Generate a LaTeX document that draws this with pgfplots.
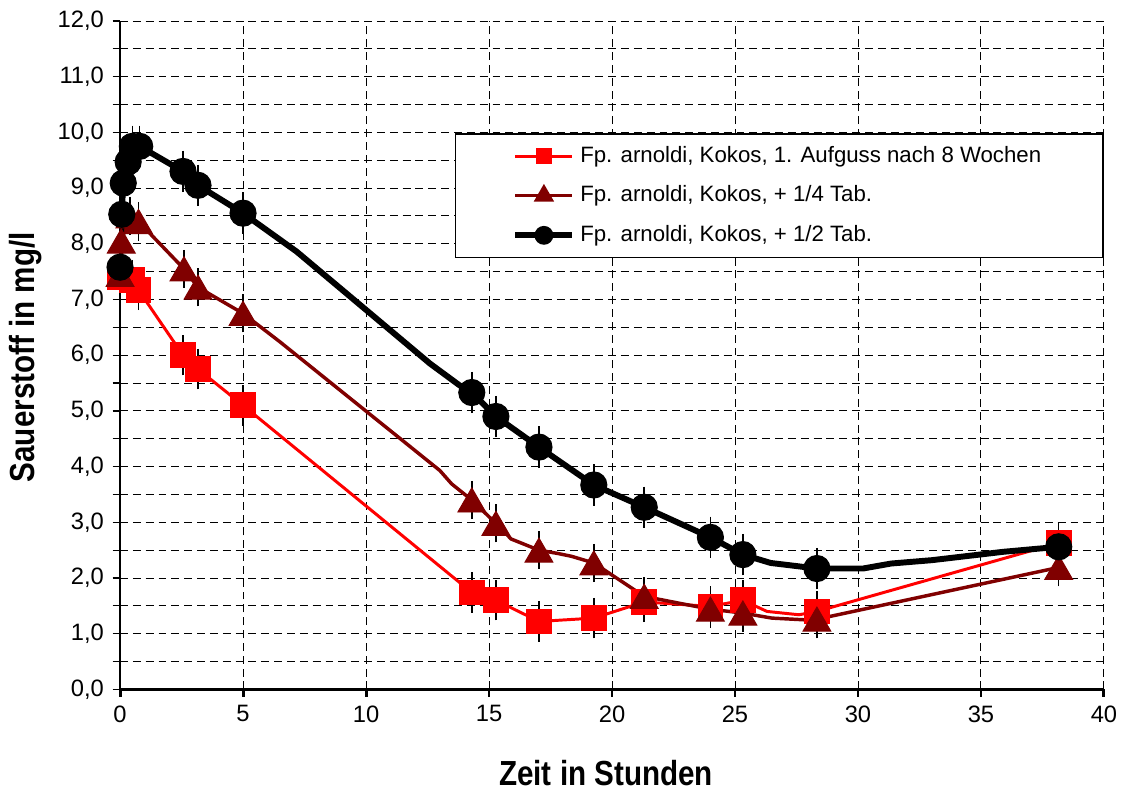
\documentclass[border=0pt]{standalone}
\usepackage{fontspec}
\setmainfont{Liberation Sans}
\newfontfamily\labelfont[FakeStretch=0.85]{Liberation Sans Bold}
\usepackage{pgfplots}
\pgfplotsset{compat=1.18}
\definecolor{dred}{RGB}{128,0,0}

\pgfplotstableread{
x     y
0     7.4
0.5   7.35
0.75  7.17
2.56  6.0
3.17  5.75
5.0   5.1
14.3  1.74
15.28 1.6
17.03 1.22
19.26 1.28
21.31 1.57
24.0  1.49
25.32 1.6
28.33 1.4
38.16 2.63
}\redpts
\pgfplotstableread{
x     y
0     7.45
0.05  8.05
0.4   8.5
0.75  8.4
2.6   7.55
3.17  7.22
5.0   6.75
14.3  3.4
15.28 2.98
17.03 2.5
19.26 2.27
21.31 1.67
24.0  1.44
25.32 1.37
28.33 1.26
38.16 2.19
}\dredpts
\pgfplotstableread{
x     y
0     7.58
0.07  8.53
0.13  9.09
0.33  9.47
0.5   9.75
0.8   9.75
2.56  9.3
3.17  9.05
5.0   8.55
14.3  5.33
15.28 4.9
17.03 4.35
19.26 3.67
21.31 3.27
24.0  2.73
25.32 2.42
28.33 2.17
38.16 2.56
}\blackpts

\begin{document}
\begin{tikzpicture}
\begin{axis}[
  scale only axis, width=14.0cm, height=9.51cm,
  xmin=0, xmax=40, ymin=0, ymax=12,
  xtick={0,5,...,40}, ytick={0,1,...,12}, minor y tick num=1,
  axis lines=left, axis line style={-},
  x axis line style={line width=1.2pt},
  y axis line style={line width=0.5pt},
  tick align=outside, major tick length=3pt, minor tick length=3pt,
  xtick style={line width=1.2pt, black},
  ytick style={line width=0.5pt, black},
  xmajorgrids, ymajorgrids, yminorgrids,
  grid style={black, line width=0.4pt, dash pattern=on 3.2pt off 2pt},
  minor grid style={black, line width=0.4pt, dash pattern=on 3.2pt off 2pt},
  tick label style={font=\fontsize{9.6}{11}\selectfont},
  /pgf/number format/assume math mode=true,
  yticklabel style={/pgf/number format/.cd, fixed, fixed zerofill, precision=1, use comma},
  xlabel={\labelfont\fontsize{14.1}{16}\selectfont Zeit in Stunden},
  ylabel={\labelfont\fontsize{14.1}{16}\selectfont Sauerstoff in mg/l},
  xlabel style={at={(axis description cs:0.494,-0.1257)}, anchor=center},
  ylabel style={at={(axis description cs:-0.0965,0.497)}, anchor=center},
  legend style={at={(axis description cs:0.3405,0.832)}, anchor=north west,
    draw=black, fill=white, line width=0.5pt, font=\fontsize{9}{11}\selectfont,
    inner xsep=23pt, inner ysep=3pt, row sep=4pt, cells={anchor=west}},
  legend image code/.code={\draw[mark repeat=2, mark phase=2, #1]
    plot coordinates {(0cm,0cm) (0.405cm,0cm) (0.81cm,0cm)};},
  error bars/error bar style={draw=black, line width=0.5pt},
  error bars/error mark options={draw=black, line width=0.6pt, mark size=2.3pt},
]
% Fp. arnoldi, Kokos, 1. Aufguss nach 8 Wochen
\addplot[red, line width=1.2pt, forget plot] coordinates {
  (0,7.4) (0.5,7.35) (0.75,7.17) (2.56,6.0) (3.17,5.75) (5.0,5.1)
  (14.3,1.74) (15.28,1.6) (17.03,1.22) (19.26,1.28) (21.31,1.57)
  (24.0,1.49) (25.32,1.6) (26.3,1.40) (27.6,1.34) (28.33,1.4) (38.16,2.63)};
\addplot[only marks, mark=none, forget plot,
  error bars/.cd, y dir=both, y fixed=0.26] table[x=x, y=y] {\redpts};
\addplot[only marks, mark=square*, mark size=5pt, red, forget plot]
  table[x=x, y=y] {\redpts};
% + 1/4 Tab.
\addplot[dred, line width=1.4pt, forget plot] coordinates {
  (0,7.45) (0.05,8.05) (0.4,8.5) (0.75,8.4) (2.6,7.55) (3.17,7.22) (5.0,6.75)
  (6.5,6.24) (13.0,3.93) (13.48,3.69) (14.3,3.4) (15.28,2.98) (15.9,2.7)
  (17.03,2.5) (17.8,2.44) (18.35,2.39) (19.26,2.27) (21.31,1.67) (22.7,1.55)
  (24.0,1.44) (25.32,1.37) (26.5,1.28) (27.8,1.25) (28.33,1.26) (38.16,2.19)};
\addplot[only marks, mark=none, forget plot,
  error bars/.cd, y dir=both, y fixed=0.24] table[x=x, y=y] {\dredpts};
\addplot[only marks, mark=triangle*, mark size=6.5pt, dred, forget plot,
  mark options={yshift=-1.6pt}]
  table[x=x, y=y] {\dredpts};
% + 1/2 Tab.
\addplot[black, line width=2.4pt, forget plot] coordinates {
  (0,7.58) (0.07,8.53) (0.13,9.09) (0.33,9.47) (0.5,9.75) (0.8,9.75)
  (2.56,9.3) (3.17,9.05) (5.0,8.55) (7.18,7.86) (12.6,5.85) (13.8,5.46)
  (14.3,5.33) (15.28,4.9) (17.03,4.35) (19.26,3.67) (21.31,3.27) (24.0,2.73)
  (25.32,2.42) (26.45,2.27) (28.33,2.17) (30.2,2.17) (31.35,2.26) (33.0,2.32)
  (35.9,2.47) (38.16,2.56)};
\addplot[only marks, mark=none, forget plot,
  error bars/.cd, y dir=both, y fixed=0.27] table[x=x, y=y] {\blackpts};
\addplot[only marks, mark=*, mark size=5.3pt, black, forget plot]
  table[x=x, y=y] {\blackpts};
\addlegendimage{red, line width=1.2pt, mark=square*, mark size=2.6pt}
\addlegendentry{Fp. arnoldi, Kokos, 1. Aufguss nach 8 Wochen}
\addlegendimage{dred, line width=1.4pt, mark=triangle*, mark size=3.4pt}
\addlegendentry{Fp. arnoldi, Kokos, + 1/4 Tab.}
\addlegendimage{black, line width=2.4pt, mark=*, mark size=2.6pt}
\addlegendentry{Fp. arnoldi, Kokos, + 1/2 Tab.}
\end{axis}
\pgfresetboundingbox
\path[use as bounding box] (-1.708cm,-1.466cm) rectangle (14.285cm,9.809cm);
\end{tikzpicture}
\end{document}
